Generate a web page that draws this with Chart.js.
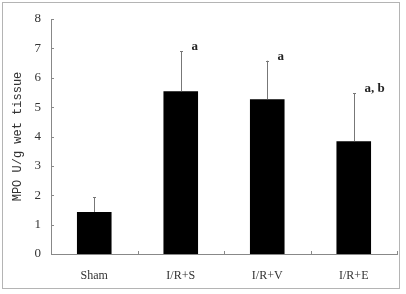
<!DOCTYPE html>
<html><head><meta charset="utf-8">
<script src="https://cdn.jsdelivr.net/npm/chart.js@4"></script>
<style>html,body{margin:0;padding:0;background:#fff}#wrap{position:relative;width:406px;height:294px}</style>
</head><body><div id="wrap"><canvas id="c" width="406" height="294"></canvas></div>
<script>
const categories = ["Sham", "I/R+S", "I/R+V", "I/R+E"];
const means = [1.43, 5.54, 5.27, 3.84];
const errors = [0.51, 1.36, 1.31, 1.64];
const marks = ["", "a", "a", "a, b"];
const yTicks = [0, 1, 2, 3, 4, 5, 6, 7, 8];

const extras = {
  id: 'extras',
  beforeDraw(chart) {
    const ctx = chart.ctx;
    ctx.save();
    ctx.fillStyle = '#fff';
    ctx.fillRect(0, 0, chart.width, chart.height);
    ctx.strokeStyle = '#b4b4b4';
    ctx.lineWidth = 1;
    ctx.strokeRect(2.5, 2.5, 397, 286);
    ctx.restore();
  },
  afterDatasetsDraw(chart) {
    const ctx = chart.ctx;
    const xs = chart.scales.x, ys = chart.scales.y;
    ctx.save();
    ctx.strokeStyle = '#777';
    ctx.lineWidth = 1;
    means.forEach((m, i) => {
      const x = Math.round(xs.getPixelForValue(i)) + 0.5;
      const y0 = ys.getPixelForValue(m);
      const y1 = ys.getPixelForValue(m + errors[i]);
      ctx.beginPath();
      ctx.moveTo(x, y0); ctx.lineTo(x, y1);
      ctx.moveTo(x - 1.5, Math.round(y1) + 0.5); ctx.lineTo(x + 1.5, Math.round(y1) + 0.5);
      ctx.stroke();
      if (marks[i]) {
        ctx.fillStyle = '#222';
        ctx.font = 'bold 13px "Liberation Serif"';
        ctx.textBaseline = 'alphabetic';
        ctx.textAlign = 'left';
        ctx.fillText(marks[i], x + 10, y1 - 1);
      }
    });
    ctx.strokeStyle = '#888';
    const left = ys.right, bottom = xs.top;
    yTicks.forEach(v => {
      const y = Math.round(ys.getPixelForValue(v)) + 0.5;
      ctx.beginPath(); ctx.moveTo(left, y); ctx.lineTo(left + 3, y); ctx.stroke();
    });
    for (let i = 0; i <= categories.length; i++) {
      const x = Math.round(xs.getPixelForValue(i - 0.5)) + 0.5;
      ctx.beginPath(); ctx.moveTo(x, bottom); ctx.lineTo(x, bottom - 3); ctx.stroke();
    }
    ctx.restore();
  }
};

new Chart(document.getElementById('c'), {
  type: 'bar',
  data: {
    labels: categories,
    datasets: [{ data: means, backgroundColor: '#000', borderWidth: 0, barPercentage: 0.4, categoryPercentage: 1 }]
  },
  options: {
    responsive: false,
    animation: false,
    layout: { padding: { left: 0, top: 19, right: 9, bottom: 0 } },
    plugins: { legend: { display: false }, tooltip: { enabled: false } },
    scales: {
      x: {
        offset: true,
        grid: { display: false, drawTicks: false },
        border: { display: true, color: '#888', width: 1 },
        ticks: { color: '#333', font: { family: 'Liberation Serif', size: 12 }, padding: 15 },
        afterFit(s) { s.height = 40; }
      },
      y: {
        min: 0, max: 8,
        afterBuildTicks(s) { s.ticks = yTicks.map(v => ({ value: v })); },
        grid: { display: false, drawTicks: false },
        border: { display: true, color: '#888', width: 1 },
        ticks: { color: '#333', font: { family: 'Liberation Serif', size: 13 }, padding: 10 },
        title: { display: true, text: 'MPO U/g wet tissue', color: '#333', font: { family: 'Liberation Mono', size: 12 }, padding: { top: 11, bottom: 0 } },
        afterFit(s) { s.width = 51; }
      }
    }
  },
  plugins: [extras]
});
</script></body></html>
